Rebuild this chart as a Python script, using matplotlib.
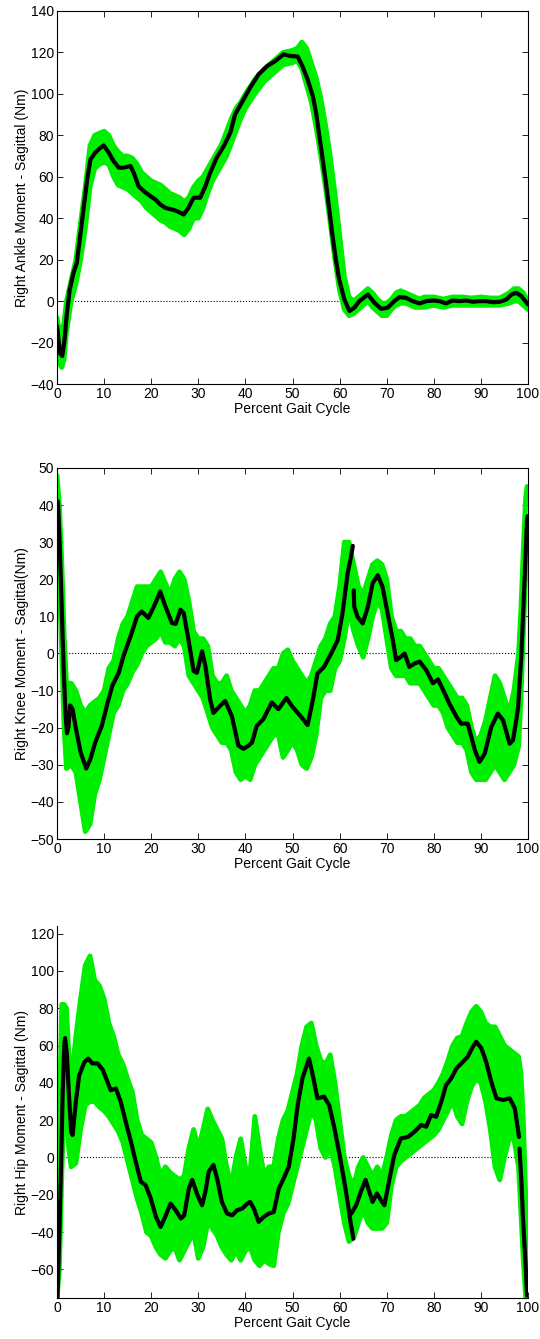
#!/usr/bin/env python3
"""Sagittal joint moments over the gait cycle: trials (green) and mean (black)."""
import matplotlib
matplotlib.use("Agg")
import matplotlib.pyplot as plt
import numpy as np

plt.rcParams.update({
    "font.family": ["Liberation Sans", "DejaVu Sans"],
    "font.size": 10,
    "axes.linewidth": 0.8,
})

GREEN = "#00ee00"

# ---------------- ankle ----------------
ankle_pct = [0, 0.6, 1.1, 1.6, 2.1, 2.7, 3.5, 4.2, 5, 5.7, 6.4, 7.1, 8.1, 9.2, 9.9,
             11, 12, 13.1, 14.1, 15.6, 16.3, 17.3, 18.4, 19.8, 20.9, 21.9, 23, 24.4,
             25.5, 26.9, 27.9, 29, 30.4, 31.5, 32.5, 33.9, 35.4, 36.8, 37.8, 39.2, 41,
             42.8, 44.6, 46.3, 48.1, 49.5, 51.1, 52.1, 53.2, 54.3, 55, 55.7, 56.4,
             57.1, 57.8, 58.5, 59.2, 59.9, 61, 62.1, 63.1, 64.2, 66, 67.4, 68.8, 70.2,
             71.6, 72.7, 74.1, 75.5, 77, 78.4, 79.8, 81.2, 82.6, 84, 85.5, 86.9, 88.3,
             89.7, 91.1, 92.6, 94, 95.4, 96.5, 97.5, 98.6, 100]
ankle_mean = [-12, -25, -26.5, -18.5, -5.6, 5.6, 13.7, 18.5, 33, 45.9, 58.7, 68.4, 71.6,
              74, 75.1, 71.6, 67.6, 64.4, 64.4, 65.2, 61.9, 55.5, 53.1, 50.7, 49, 46.7,
              45, 44.2, 43.4, 41.8, 45, 49.9, 49.9, 55.5, 61.9, 69.2, 74.8, 81.3, 90.1,
              95.7, 103, 109.4, 113.4, 115.8, 119.1, 118.3, 118, 113.4, 107, 99, 91,
              79.6, 68.4, 57, 44.2, 31.4, 20, 10.5, 0.8, -4.8, -3.2, 0, 3.2, -0.8, -3.7,
              -3.2, 0, 1.9, 1.6, 0, -1.1, 0, 0.3, 0, -1.1, 0.3, 0, 0.3, -0.3, 0, 0,
              -0.5, -0.3, 0.8, 3.2, 4, 2.4, -1.6]
ankle_env_pct = [0, 0.5, 1, 1.5, 2, 3, 4, 5, 6, 7, 8, 9, 10, 11, 12, 13, 14, 15, 16, 17,
                 18, 19, 20, 21, 22, 23, 24, 25, 26, 27, 28, 29, 30, 31, 32, 33, 34, 35,
                 36, 37, 38, 39, 40, 42, 44, 46, 48, 50, 51, 52, 53, 54, 55, 56, 57, 58,
                 59, 60, 61, 62, 63, 64, 65, 66, 67, 68, 69, 70, 71, 72, 73, 74, 75, 76,
                 77, 78, 80, 82, 84, 86, 88, 90, 92, 94, 96, 97, 98, 99, 100]
ankle_hi = [-8, -14, -16, -10, 0, 10, 20, 38, 55, 75, 80, 81, 82, 80, 75, 72, 70, 70,
            69, 66, 62, 60, 58, 57, 56, 54, 52, 51, 50, 48, 50, 55, 58, 60, 64, 68, 72,
            76, 82, 88, 93, 96, 100, 107, 112, 116, 120, 121, 122, 125, 122, 115, 108,
            98, 85, 70, 52, 32, 12, 2, 0, 2, 4, 6, 4, 1, -1, -1, 1, 4, 5, 4, 3, 2, 1, 2,
            2, 1, 2, 2, 1.5, 2, 1.5, 1.5, 4, 6, 6, 4, 0]
ankle_lo = [-20, -30, -32, -28, -15, 0, 8, 20, 35, 55, 64, 66, 67, 66, 60, 56, 55, 54,
            52, 50, 48, 45, 43, 41, 39, 38, 36, 35, 34, 32, 35, 40, 40, 45, 52, 58, 62,
            66, 70, 76, 82, 88, 93, 100, 106, 110, 114, 115, 116, 112, 104, 96, 84, 70,
            55, 38, 20, 5, -4, -7, -6, -4, -2, 0, -3, -5, -7, -7, -4, -2, -1, -1, -2,
            -3, -3, -3, -2, -3, -2, -2, -2, -2, -2, -2, -1, 0, 0, -2, -4]

# ---------------- knee ----------------
knee_pct = [0.2, 0.6, 1.0, 1.4, 1.8, 2.1, 2.4, 2.8, 3.3, 3.9, 5.0, 6.2, 7.1, 8.1, 9.5,
            10.6, 11.7, 13.1, 14.1, 15.6, 17, 18, 19.4, 20.9, 21.9, 23, 24.4, 25.2,
            26.2, 26.9, 27.9, 29, 29.7, 30.8, 31.5, 32.5, 33.2, 34.7, 35.7, 37.1, 38.5,
            39.6, 40.7, 41.4, 42.4, 43.8, 45.6, 47, 48.7, 50, 51.8, 53.2, 54.3, 55.3,
            56.7, 58.2, 59.6, 60.6, 61.7, 62.4, 62.8, 62.9, 63.0, 63.1, 63.8, 64.9, 66,
            67, 68.1, 69.1, 70.2, 71.3, 72, 73, 73.8, 74.8, 75.9, 77, 78.4, 79.8, 80.9,
            82, 83.3, 84.8, 85.8, 87.2, 88.7, 89.7, 90.8, 92.2, 93.6, 94.7, 96.1, 96.8,
            97.5, 97.9, 98.6, 99.3, 99.8, 99.9]
knee_mean = [41, 28, 12, -4, -16, -21.5, -20, -14, -15, -19.5, -26.6, -31, -28.4, -24,
             -19.5, -14, -8.8, -5.2, -0.7, 4.6, 10, 11.3, 9.6, 13.6, 16.7, 12.7, 8.2, 8,
             11.8, 10.9, 3.8, -4.7, -5.2, 0.6, -3.4, -12.3, -16, -14, -12.8, -16.8,
             -24.8, -25.7, -24.8, -24, -19.5, -17.7, -13.2, -15, -12, -14.4, -17, -19.3,
             -12.6, -5.4, -3.6, 0, 3.6, 10.8, 21.6, 26, 29, np.nan, 17, 12.6, 9.9, 8.1,
             12.6, 18.9, 21.1, 18, 10.8, 3.6, -1.8, -0.9, 0, -3.6, -2.7, -2.2, -4.5, -8,
             -7, -9.9, -13.5, -17, -18.9, -18.9, -26, -29.2, -27, -19.8, -16.2, -18,
             -24.3, -23.4, -18, -14.4, 0, 20.7, 36, 37]
knee_env_pct = [0, 0.5, 1, 1.5, 2, 3, 4, 5, 6, 7, 8, 9, 10, 11, 12, 13, 14, 15, 16, 17,
                18, 19, 20, 21, 22, 23, 24, 25, 26, 27, 28, 29, 30, 31, 32, 33, 34, 35,
                36, 37, 38, 39, 40, 41, 42, 43, 44, 45, 46, 47, 48, 49, 50, 51, 52, 53,
                54, 55, 56, 57, 58, 59, 60, 61, 62, 63, 64, 65, 66, 67, 68, 69, 70, 71,
                72, 73, 74, 75, 76, 77, 78, 79, 80, 81, 82, 83, 84, 85, 86, 87, 88, 89,
                90, 91, 92, 93, 94, 95, 96, 97, 98, 98.5, 99, 99.5, 99.8]
knee_hi = [48, 40, 25, 5, -8, -8, -10, -14, -16, -14, -13, -12, -10, -4, -2, 4, 8, 10,
           14, 18, 18, 18, 18, 20, 22, 19, 16, 20, 22, 20, 14, 6, 4, 4, 2, -6, -8, -8,
           -6, -10, -12, -14, -16, -14, -10, -10, -8, -6, -4, -4, 0, 1, -2, -4, -6, -8,
           -6, -2, 2, 4, 8, 10, 18, 30, 30, 24, 18, 16, 20, 24, 25, 24, 20, 10, 6, 6, 4,
           4, 2, 2, 0, -2, -4, -4, -6, -8, -10, -12, -12, -14, -20, -24, -22, -18, -12,
           -6, -8, -12, -16, -10, 0, 12, 28, 42, 45]
knee_lo = [38, 20, 0, -20, -31, -30, -32, -40, -48, -46, -38, -34, -28, -22, -16, -14,
           -10, -8, -5, -3, 0, 2, 3, 4, 6, 3, 3, 2, 4, 2, -6, -8, -10, -12, -16, -20,
           -22, -24, -24, -26, -32, -34, -33, -34, -30, -28, -26, -24, -22, -22, -28,
           -26, -24, -26, -30, -31, -28, -22, -12, -10, -10, -4, -2, 4, 12, 6, 2, -1, 4,
           10, 14, 12, 4, -4, -6, -6, -6, -8, -8, -8, -10, -12, -14, -14, -16, -20, -22,
           -24, -24, -26, -32, -34, -34, -34, -32, -30, -32, -34, -32, -30, -25, -12, 5,
           22, 32]

# ---------------- hip ----------------
hip_pct = [0.1, 0.5, 0.9, 1.2, 1.55, 1.7, 2.1, 2.5, 3.0, 3.3, 4, 4.7, 5.8, 6.6, 7.5, 8.6,
           9.7, 10.7, 11.4, 12.5, 13.5, 14.6, 15.7, 16.7, 17.8, 18.8, 19.9, 21, 22,
           23.1, 24.1, 25.2, 26.3, 27, 28, 28.7, 29.8, 30.8, 31.5, 32.2, 33.2, 34, 35,
           36.1, 37.2, 38.2, 39.3, 40.4, 41, 41.8, 42.8, 43.9, 45, 46, 47.1, 48.1, 49.2,
           50.2, 51.1, 52.1, 53.5, 54.3, 55.3, 56.7, 57.8, 58.9, 60, 61, 61.7, 62.1,
           62.4, 62.7, 62.9, 63.0, 62.5, 63.5, 64.5, 65.5, 66.3, 67, 67.9, 68.8, 69.5,
           70.6, 71.6, 73, 74.5, 75.9, 77.3, 78.4, 79.4, 80.5, 81.6, 82.6, 83.7, 84.8,
           86.2, 87.2, 88.3, 89, 90.1, 91.1, 92.2, 93.3, 94.7, 96.1, 97.2, 98.1, 98.15,
           98.2, 98.6, 98.9, 99.5, 99.8]
hip_mean = [-75.5, -40, 0, 35, 60, 64, 55, 35, 13.8, 12, 30, 44, 51, 53, 50.4, 50.4, 47,
            40.6, 36, 37, 30, 19, 8.4, -2.3, -13, -14.8, -22, -31.8, -37.2, -31, -24.7,
            -28.3, -32.7, -31, -16.6, -12, -20, -25.6, -18.4, -7.7, -4, -11.3, -23.8,
            -30, -31, -28.3, -27.4, -24.7, -23.8, -27.4, -34.5, -31.8, -30, -29.2,
            -16.6, -11.3, -5, 10, 28, 42.4, 53, 44, 31.7, 32.6, 28, 15.6, 1.3, -13,
            -23.8, -31, -36, -40, -43.5, np.nan, -30, -25.6, -18.4, -12, -18.4, -23.8,
            -19.3, -23, -25.6, -11.3, 1.3, 10.2, 11, 13.8, 17.4, 16.5, 22.7, 21.8, 30,
            38.8, 42.4, 47.8, 51.3, 54, 59.4, 62, 58.5, 51.3, 40.6, 31.7, 30.8, 31.7,
            26.3, 11, np.nan, 4.8, -13, -31, -57.8, -74]
hip_env_pct = [0, 0.5, 1, 1.5, 2, 2.5, 3, 4, 5, 6, 7, 8, 9, 10, 11, 12, 13, 14, 15, 16,
               17, 18, 19, 20, 21, 22, 23, 24, 25, 26, 27, 28, 29, 30, 31, 32, 33, 34,
               35, 36, 37, 38, 39, 40, 41, 42, 43, 44, 45, 46, 47, 48, 49, 50, 51, 52,
               53, 54, 55, 56, 57, 58, 59, 60, 61, 62, 63, 64, 65, 66, 67, 68, 69, 70,
               71, 72, 73, 74, 75, 76, 77, 78, 79, 80, 81, 82, 83, 84, 85, 86, 87, 88,
               89, 90, 91, 92, 93, 94, 95, 96, 97, 98, 98.5, 99, 99.5, 99.8]
hip_hi = [-40, 20, 82, 82, 80, 55, 40, 65, 85, 103, 108, 95, 92, 85, 72, 65, 55, 50, 42,
          35, 20, 12, 10, 8, 0, -10, -5, -8, -10, -12, -10, 5, 15, 5, 15, 26, 20, 15,
          10, -5, -15, 0, 10, -5, -8, 22, 5, -10, -5, -5, 10, 20, 25, 35, 45, 60, 70,
          72, 60, 52, 50, 55, 40, 20, 0, -10, -15, -5, 0, -5, -10, -5, -10, 0, 12, 20,
          22, 22, 24, 26, 28, 32, 34, 36, 40, 45, 52, 60, 64, 65, 72, 78, 81, 78, 72,
          70, 70, 65, 60, 58, 56, 54, 45, 20, -20, -60]
hip_lo = [-75, -60, -10, 30, 25, 5, -5, -3, 15, 28, 30, 30, 27, 25, 22, 18, 14, 8, -2,
          -12, -22, -30, -40, -42, -48, -52, -54, -50, -48, -55, -50, -45, -40, -54,
          -48, -35, -38, -42, -48, -52, -55, -50, -55, -50, -48, -55, -58, -55, -57,
          -58, -40, -30, -25, -15, -5, 5, 15, 25, 20, 5, 0, 5, -5, -20, -35, -45, -43,
          -35, -28, -35, -38, -38, -38, -35, -15, -5, -2, 0, 2, 4, 6, 8, 10, 12, 15, 20,
          25, 30, 22, 18, 30, 38, 42, 40, 30, 15, -5, -12, 0, 10, 10, -5, -30, -55,
          -75, -75]

pct_ticks = list(range(0, 101, 10))


def draw_panel(ax, env_pct, hi, lo, pct, mean):
    ax.axhline(0, color="k", ls=":", lw=0.8, zorder=1)
    ax.fill_between(env_pct, lo, hi, color=GREEN, lw=0, zorder=2)
    for edge in (hi, lo):
        ax.plot(env_pct, edge, color=GREEN, lw=3.5, solid_capstyle="round",
                solid_joinstyle="round", zorder=2)
    ax.plot(pct, mean, color="k", lw=3, solid_capstyle="round",
            solid_joinstyle="round", zorder=3)
    ax.set_xlim(0, 100)
    ax.set_xticks(pct_ticks)
    ax.set_xlabel("Percent Gait Cycle", labelpad=1)
    ax.tick_params(direction="in", length=4, width=0.6, pad=2)


def main():
    fig = plt.figure(figsize=(5.4, 13.39), dpi=100)

    ax1 = fig.add_axes([0.1056, 0.7132, 0.8722, 0.2786])
    draw_panel(ax1, ankle_env_pct, ankle_hi, ankle_lo, ankle_pct, ankle_mean)
    ax1.set_ylim(-40, 140)
    ax1.set_yticks(range(-40, 141, 20))
    ax1.set_ylabel("Right Ankle Moment - Sagittal (Nm)", labelpad=1)
    ax1.tick_params(top=True, right=True)

    ax2 = fig.add_axes([0.1056, 0.3734, 0.8722, 0.2771])
    draw_panel(ax2, knee_env_pct, knee_hi, knee_lo, knee_pct, knee_mean)
    ax2.set_ylim(-50, 50)
    ax2.set_yticks(range(-50, 51, 10))
    ax2.set_ylabel("Right Knee Moment - Sagittal(Nm)", labelpad=1)
    ax2.tick_params(top=True, right=True)

    ax3 = fig.add_axes([0.1056, 0.0306, 0.8722, 0.2778])
    draw_panel(ax3, hip_env_pct, hip_hi, hip_lo, hip_pct, hip_mean)
    ax3.set_ylim(-75.3, 124)
    ax3.set_yticks(range(-60, 121, 20))
    ax3.set_ylabel("Right Hip Moment - Sagittal (Nm)", labelpad=1)
    ax3.spines["top"].set_visible(False)
    ax3.spines["right"].set_visible(False)

    plt.savefig("out.png", dpi=100)


if __name__ == "__main__":
    main()
